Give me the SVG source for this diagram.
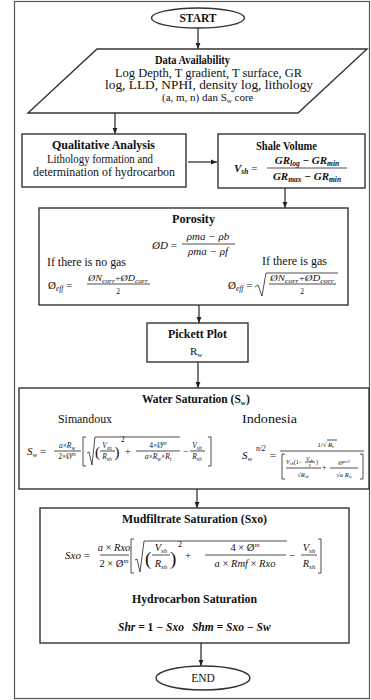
<svg xmlns="http://www.w3.org/2000/svg" width="371" height="700" viewBox="0 0 371 700" font-size="11.5">
<style>
text{font-family:"Liberation Serif","DejaVu Serif","Times New Roman",serif;fill:#111;}
.b{font-weight:bold;}
.m{font-style:italic;}
.mb{font-style:italic;font-weight:bold;}
.box{fill:#fff;stroke:#333;stroke-width:1.4;}
.ln{stroke:#222;stroke-width:0.8;fill:none;}
.con{stroke:#222;stroke-width:1.2;fill:none;marker-end:url(#ah);}
</style>
<defs>
<marker id="ah" viewBox="0 0 10 10" refX="10" refY="5" markerWidth="5" markerHeight="5" orient="auto"><path d="M0,1 L10,5 L0,9 z" fill="#222"/></marker>
</defs>
<rect x="14.5" y="1.5" width="355" height="697" fill="#fff" stroke="#555" stroke-width="1.2"/>

<g id="connectors">
<line class="con" x1="198" y1="28" x2="198" y2="49"/>
<line class="con" x1="115" y1="113" x2="115" y2="134"/>
<line class="con" x1="188" y1="162" x2="217" y2="162"/>
<line class="con" x1="285" y1="188" x2="285" y2="208"/>
<line class="con" x1="199" y1="305" x2="199" y2="323"/>
<line class="con" x1="198" y1="362" x2="198" y2="388"/>
<line class="con" x1="197" y1="489" x2="197" y2="508"/>
<line class="con" x1="201" y1="643" x2="201" y2="666"/>
</g>

<g id="start">
<ellipse class="box" cx="198" cy="18" rx="46.5" ry="10"/>
<text class="b" x="198" y="22" text-anchor="middle">START</text>
</g>

<g id="data">
<polygon class="box" points="97,49 367,49 298,113 28,113"/>
<text class="b" x="155" y="64" textLength="75" lengthAdjust="spacingAndGlyphs">Data Availability</text>
<text x="115" y="77" textLength="187" lengthAdjust="spacingAndGlyphs">Log Depth, T gradient, T surface, GR</text>
<text x="105" y="89" textLength="208" lengthAdjust="spacingAndGlyphs">log, LLD, NPHI, density log, lithology</text>
<text x="162" y="101" font-size="11">(a, m, n) dan S<tspan font-size="7" dy="2">w</tspan><tspan dy="-2"> core</tspan></text>
</g>

<g id="qualitative">
<rect class="box" x="22" y="134" width="164" height="53"/>
<text class="b" x="52" y="149" textLength="103" lengthAdjust="spacingAndGlyphs">Qualitative Analysis</text>
<text x="47" y="163" textLength="106" lengthAdjust="spacingAndGlyphs">Lithology formation and</text>
<text x="33" y="176" textLength="142" lengthAdjust="spacingAndGlyphs">determination of hydrocarbon</text>
</g>

<g id="shale">
<rect class="box" x="218" y="134" width="147" height="54"/>
<text class="b" x="256" y="150" textLength="61" lengthAdjust="spacingAndGlyphs">Shale Volume</text>
<text class="mb" x="234" y="172" font-size="11">V<tspan font-size="7.5" dy="2">sh</tspan><tspan dy="-2" font-style="normal" font-weight="normal"> =</tspan></text>
<text class="mb" x="307" y="164" text-anchor="middle" font-size="11">GR<tspan font-size="7.5" dy="2">log</tspan><tspan dy="-2"> − GR</tspan><tspan font-size="7.5" dy="2">min</tspan></text>
<line class="ln" x1="267" y1="168" x2="347" y2="168"/>
<text class="mb" x="307" y="180" text-anchor="middle" font-size="11">GR<tspan font-size="7.5" dy="2">max</tspan><tspan dy="-2"> − GR</tspan><tspan font-size="7.5" dy="2">min</tspan></text>
</g>

<g id="porosity">
<rect class="box" x="39" y="208" width="309" height="97"/>
<text class="b" x="172" y="223" textLength="43" lengthAdjust="spacingAndGlyphs">Porosity</text>
<text class="m" x="152" y="249" font-size="11">ØD <tspan font-style="normal">=</tspan></text>
<text class="m" x="208" y="240" text-anchor="middle" font-size="11">ρma − ρb</text>
<line class="ln" x1="182" y1="244" x2="235" y2="244"/>
<text class="m" x="208" y="255" text-anchor="middle" font-size="11">ρma − ρf</text>
<text x="47" y="266" textLength="79" lengthAdjust="spacingAndGlyphs">If there is no gas</text>
<text x="262" y="265" textLength="65" lengthAdjust="spacingAndGlyphs">If there is gas</text>
<text class="m" x="48" y="289" font-size="11"><tspan font-style="normal">Ø</tspan><tspan font-size="7.5" dy="2">eff</tspan><tspan dy="-2" font-style="normal"> =</tspan></text>
<text class="m" x="118" y="281" text-anchor="middle" font-size="8" textLength="60" lengthAdjust="spacingAndGlyphs">ØN<tspan font-size="6" dy="1.5">corr</tspan><tspan dy="-1.5" font-style="normal">+</tspan>ØD<tspan font-size="6" dy="1.5">corr</tspan></text>
<line class="ln" x1="87" y1="284" x2="150" y2="284"/>
<text x="118" y="294" text-anchor="middle" font-size="7.5">2</text>
<text class="m" x="228" y="289" font-size="11"><tspan font-style="normal">Ø</tspan><tspan font-size="7.5" dy="2">eff</tspan><tspan dy="-2" font-style="normal"> =</tspan></text>
<path class="ln" d="M255,287 L258,285 L262,296 L266,273 L338,273"/>
<text class="m" x="302" y="281" text-anchor="middle" font-size="8" textLength="64" lengthAdjust="spacingAndGlyphs">ØN<tspan font-size="6" dy="1.5">corr</tspan><tspan dy="-1.5" font-style="normal">+</tspan>ØD<tspan font-size="6" dy="1.5">corr</tspan></text>
<line class="ln" x1="269" y1="284" x2="336" y2="284"/>
<text x="302" y="294" text-anchor="middle" font-size="7.5">2</text>
</g>

<g id="pickett">
<rect class="box" x="147" y="323" width="101" height="39"/>
<text class="b" x="168" y="338" textLength="59" lengthAdjust="spacingAndGlyphs">Pickett Plot</text>
<text x="190" y="355" font-size="11">R<tspan font-size="7" dy="2">w</tspan></text>
</g>

<g id="water">
<rect class="box" x="19" y="388" width="350" height="101"/>
<text class="b" x="142" y="403">Water Saturation (S<tspan font-size="7" dy="2">w</tspan><tspan dy="-2">)</tspan></text>
<text x="58" y="423" textLength="54" lengthAdjust="spacingAndGlyphs">Simandoux</text>
<text x="242" y="423" textLength="55" lengthAdjust="spacingAndGlyphs">Indonesia</text>
<!-- Simandoux -->
<text class="m" x="27" y="455" font-size="11">S<tspan font-size="7" dy="2">w</tspan><tspan dy="-2" font-style="normal"> =</tspan></text>
<text class="m" x="67" y="448" text-anchor="middle" font-size="7.5">a<tspan font-style="normal">×</tspan>R<tspan font-size="5.5" dy="1.5">w</tspan></text>
<line class="ln" x1="54" y1="451" x2="81" y2="451"/>
<text class="m" x="67" y="459" text-anchor="middle" font-size="7.5"><tspan font-style="normal">2×Ø</tspan><tspan font-size="5.5" dy="-3">m</tspan></text>
<path class="ln" d="M86,437 H83 V466 H86"/>
<path class="ln" d="M87,453 L89,452 L92,465 L95,437 L180,437"/>
<text x="95" y="457" font-size="15">(</text>
<text class="m" x="107" y="448" text-anchor="middle" font-size="7.5">V<tspan font-size="5.5" dy="1.5">sh</tspan></text>
<line class="ln" x1="100" y1="451" x2="115" y2="451"/>
<text class="m" x="107" y="459" text-anchor="middle" font-size="7.5">R<tspan font-size="5.5" dy="1.5">sh</tspan></text>
<text x="114.5" y="457" font-size="15">)</text>
<text x="121" y="442" font-size="7.5">2</text>
<text x="125" y="455" font-size="10">+</text>
<text class="m" x="158" y="448" text-anchor="middle" font-size="7.5"><tspan font-style="normal">4×Ø</tspan><tspan font-size="5.5" dy="-3">m</tspan></text>
<line class="ln" x1="136" y1="451" x2="180" y2="451"/>
<text class="m" x="158" y="459" text-anchor="middle" font-size="7.5">a<tspan font-style="normal">×</tspan>R<tspan font-size="5.5" dy="1.5">w</tspan><tspan dy="-1.5" font-style="normal">×</tspan>R<tspan font-size="5.5" dy="1.5">t</tspan></text>
<text x="183" y="455" font-size="10">−</text>
<text class="m" x="197" y="448" text-anchor="middle" font-size="7.5">V<tspan font-size="5.5" dy="1.5">sh</tspan></text>
<line class="ln" x1="190" y1="451" x2="205" y2="451"/>
<text class="m" x="197" y="459" text-anchor="middle" font-size="7.5">R<tspan font-size="5.5" dy="1.5">sh</tspan></text>
<path class="ln" d="M208,437 H211 V466 H208"/>
<!-- Indonesia -->
<text class="m" x="242" y="459" font-size="11">S<tspan font-size="7" dy="2">w</tspan></text>
<text class="m" x="256" y="451" font-size="7.5">n/2</text>
<text x="270" y="459" font-size="11">=</text>
<text class="m" x="322" y="447" text-anchor="middle" font-size="7">1/√</text>
<line class="ln" x1="327" y1="440" x2="337" y2="440"/>
<text class="m" x="328" y="447" font-size="7">R<tspan font-size="5" dy="1">t</tspan></text>
<line class="ln" x1="280" y1="451" x2="364" y2="451"/>
<path class="ln" d="M285,454 H282 V479 H285"/>
<path class="ln" d="M360,454 H363 V479 H360"/>
<text class="m" x="286" y="464" font-size="6">V<tspan font-size="4.5" dy="1">sh</tspan><tspan dy="-1" font-style="normal">(1−</tspan></text>
<text class="m" x="306" y="460.5" font-size="5.5">V<tspan font-size="4" dy="1">sh</tspan></text>
<line class="ln" x1="305" y1="462" x2="315" y2="462" stroke-width="0.5"/>
<text x="308.5" y="467" font-size="5">2</text>
<text x="316" y="464" font-size="6">)</text>
<line class="ln" x1="286" y1="468" x2="321" y2="468"/>
<text class="m" x="303" y="476.5" text-anchor="middle" font-size="6.5">√R<tspan font-size="4.5" dy="1">sh</tspan></text>
<text x="322" y="470" font-size="8">+</text>
<text class="m" x="344" y="465" text-anchor="middle" font-size="6.5">Ø<tspan font-size="4.5" dy="-2.5">m/2</tspan></text>
<line class="ln" x1="330" y1="468" x2="358" y2="468"/>
<text class="m" x="344" y="476.5" text-anchor="middle" font-size="6.5">√a R<tspan font-size="4.5" dy="1">w</tspan></text>
</g>

<g id="mudfiltrate">
<rect class="box" x="40" y="508" width="309" height="135"/>
<text class="b" x="122" y="523" textLength="145" lengthAdjust="spacingAndGlyphs">Mudfiltrate Saturation (Sxo)</text>
<text class="m" x="65" y="559" font-size="11">Sxo <tspan font-style="normal">=</tspan></text>
<text class="m" x="114" y="551" text-anchor="middle" font-size="10.5">a <tspan font-style="normal">×</tspan> Rxo</text>
<line class="ln" x1="100" y1="555" x2="129" y2="555"/>
<text class="m" x="114" y="567" text-anchor="middle" font-size="10.5"><tspan font-style="normal">2 × Ø</tspan><tspan font-size="7" dy="-4">m</tspan></text>
<path class="ln" d="M134,539 H131 V573 H134"/>
<path class="ln" d="M135,560 L137,559 L140,572 L144,541 L287,541"/>
<text x="145" y="565" font-size="19">(</text>
<text class="m" x="161" y="551" text-anchor="middle" font-size="10.5">V<tspan font-size="7" dy="2">sh</tspan></text>
<line class="ln" x1="152" y1="555" x2="170" y2="555"/>
<text class="m" x="161" y="567" text-anchor="middle" font-size="10.5">R<tspan font-size="7" dy="2">sh</tspan></text>
<text x="170" y="565" font-size="19">)</text>
<text x="178" y="547" font-size="8">2</text>
<text x="185" y="559" font-size="11">+</text>
<text class="m" x="245" y="551" text-anchor="middle" font-size="10.5"><tspan font-style="normal">4 × Ø</tspan><tspan font-size="7" dy="-4">m</tspan></text>
<line class="ln" x1="205" y1="555" x2="286" y2="555"/>
<text class="m" x="245" y="567" text-anchor="middle" font-size="10.5">a <tspan font-style="normal">×</tspan> Rmf <tspan font-style="normal">×</tspan> Rxo</text>
<text x="289" y="559" font-size="11">−</text>
<text class="m" x="309" y="551" text-anchor="middle" font-size="10.5">V<tspan font-size="7" dy="2">sh</tspan></text>
<line class="ln" x1="301" y1="555" x2="317" y2="555"/>
<text class="m" x="309" y="567" text-anchor="middle" font-size="10.5">R<tspan font-size="7" dy="2">sh</tspan></text>
<path class="ln" d="M318,539 H321 V573 H318"/>
<text class="b" x="132" y="603" textLength="125" lengthAdjust="spacingAndGlyphs">Hydrocarbon Saturation</text>
<text class="mb" x="118" y="631" font-size="11.5">Shr = <tspan font-style="normal">1</tspan> − Sxo<tspan dx="8">Shm = Sxo − Sw</tspan></text>
</g>

<g id="end">
<ellipse class="box" cx="203" cy="678" rx="47" ry="12"/>
<text x="203" y="682" text-anchor="middle">END</text>
</g>
</svg>
